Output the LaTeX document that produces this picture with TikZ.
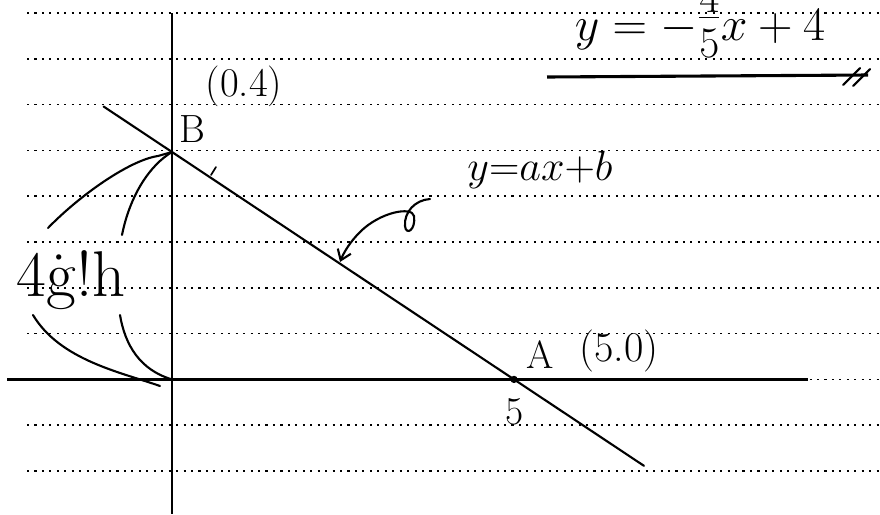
\RequirePackage{fix-cm}
\documentclass[tikz,border=0pt]{standalone}
\usetikzlibrary{calc,arrows.meta}
\def\hand#1{\fontsize{#1}{#1}\selectfont}
\tikzset{
	ruled/.style={line width=1.2pt, dash pattern=on 1.5pt off 3.8pt},
	axisline/.style={line width=1.9pt},
	pen/.style={line width=1.5pt, line cap=round},
}

\begin{document}
\begin{tikzpicture}[x=0.025cm, y=-0.025cm]
			%%%%% START %%%%%
			\useasboundingbox (0,0) rectangle (880,514);
			\clip (0,0) rectangle (880,514);
			
			% notebook lines
			\foreach \k in {0,...,10}
				\draw[ruled] (27, 13+45.8*\k) -- (880, 13+45.8*\k);
			
			\coordinate (O) at (172, 379.4);
			\coordinate (B) at (172, 152);
			\coordinate (A) at (514, 379.4);
			\coordinate (yTop) at (172, 13);
			\coordinate (yBot) at (172, 514);
			\coordinate (xLeft) at (7, 379.4);
			\coordinate (xRight) at (808, 379.4);
			
			\draw[axisline] (yTop) -- (yBot);
			\draw[axisline] (xLeft) -- (xRight);
			
			\draw[pen] ($(B)!-0.2!(A)$) -- ($(B)!1.38!(A)$);
			\draw[pen, line width=1.2pt] (211, 175) -- (216, 167);
			\fill (A) circle (2.6pt);
			
			\node[font=\hand{29}] (ptBxy) at (244, 86) {(0.4)};
			\node[font=\hand{28}] (ptB) at (192, 129) {B};
			\node[font=\hand{28}] (ptA) at (540, 355) {A};
			\node[font=\hand{30}] (ptAxy) at (619, 351) {(5.0)};
			\node[font=\hand{28}] (five) at (515, 412) {5};
			
			% y = ax + b with its arrow
			\node[font=\hand{30}] (lineEq) at (540, 170) {$y{=}ax{+}b$};
			\coordinate (curl) at (430, 199);
			\coordinate (hit) at (340, 262);
			\draw[pen, -{Straight Barb[length=7pt, width=10pt]}] (curl) .. controls (415, 200) and (404, 212) .. (405, 226) .. controls (406, 236) and (416, 230) .. (414, 216) .. controls (412, 206) and (380, 212) .. (360, 232) .. controls (350, 242) and (344, 252) .. (hit);
			
			% height label and its braces
			\node[font=\hand{46}] (height) at (71, 280) {4\.{g}!h};
			\draw[pen] (48, 228) .. controls (80, 195) and (130, 160) .. (158, 156) -- (B);
			\draw[pen] (122, 235) .. controls (130, 195) and (150, 165) .. (B);
			\draw[pen] (33, 315) .. controls (60, 360) and (120, 372) .. (160, 386);
			\draw[pen] (120, 315) .. controls (125, 345) and (140, 370) .. (O);
			
			% answer
			\node[font=\hand{34}, anchor=base] (answer) at (700, 40) {$y=-\raisebox{8.5pt}{\hand{31}$\displaystyle\frac{\raisebox{-10pt}[0pt][0pt]{$4$}}{5}$}x+4$};
			\draw[line width=2.2pt] (547, 77) -- (868, 75);
			\draw[pen] (843, 85) -- (860, 68);
			\draw[pen] (853, 86) -- (870, 69);
			
			%%%%% END %%%%%
\end{tikzpicture}
\end{document}
